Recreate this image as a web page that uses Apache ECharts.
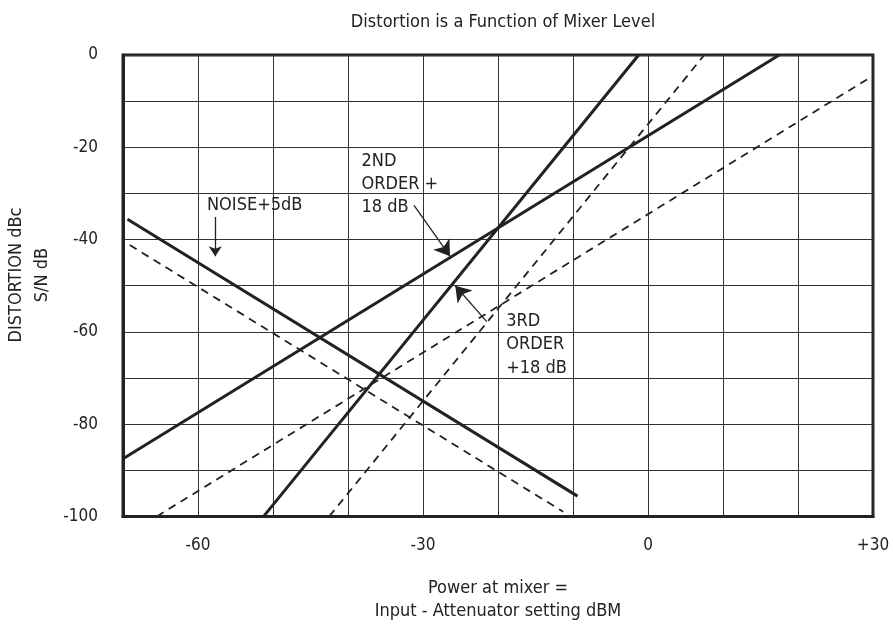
<!DOCTYPE html>
<html>
<head>
<meta charset="utf-8">
<script src="https://cdn.jsdelivr.net/npm/echarts@6/dist/echarts.min.js"></script>
<style>
html,body{margin:0;padding:0;background:#fff;}
#chart{width:893px;height:628px;}
</style>
</head>
<body>
<div id="chart"></div>
<script>
// ---- data (x = power at mixer dBm, y = dBc) ----
const xTickLabels = {'-60': '-60', '-30': '-30', '0': '0', '30': '+30'};
const yTickLabels = [0, -20, -40, -60, -80, -100];
const secondOrder = [[-70, -87.5], [17.5, 0]];
const thirdOrder = [[-51.25, -100], [-1.25, 0]];
const noise = [[-69.4, -35.6], [-9.4, -95.6]];
const noiseDashed = [[-69.1, -41.2], [-11.3, -99]];
const secondDashed = [[-65.5, -100], [29.3, -5.2]];
const thirdDashed = [[-42.5, -100], [7.5, 0]];
// annotations
const noiseArrow = [[-57.7, -35.1], [-57.7, -43.6]];
const secondArrow = [[-31.2, -32.6], [-26.4, -43.6]];
const thirdArrow = [[-21.5, -57.8], [-25.7, -50.0]];
const labelNoise = {text: 'NOISE+5dB', at: [-58.8, -32.55]};
const labelSecond = {text: '2ND\nORDER +\n18 dB', at: [-38.2, -28.0]};
const labelThird = {text: '3RD\nORDER\n+18 dB', at: [-18.9, -62.8]};

const FONT = '"Liberation Sans Narrow", "Arial Narrow", "DejaVu Sans Condensed", sans-serif';
const INK = '#222';

function solid(name, data) {
  return {name, type: 'line', data, symbol: 'none', silent: true,
    lineStyle: {color: INK, width: 3}, z: 3};
}
function dashed(name, data) {
  return {name, type: 'line', data, symbol: 'none', silent: true,
    lineStyle: {color: INK, width: 1.8, type: [8, 6]}, z: 3};
}
function arrow(name, data, size) {
  return {name, type: 'lines', coordinateSystem: 'cartesian2d', silent: true, z: 4,
    symbol: ['none', 'arrow'], symbolSize: size,
    lineStyle: {color: INK, width: 1.3, opacity: 1},
    data: [{coords: data}]};
}
function label(name, l) {
  return {name, type: 'scatter', symbol: 'circle', symbolSize: 0, silent: true, z: 5,
    itemStyle: {opacity: 1, color: INK},
    data: [{value: l.at}],
    label: {show: true, position: 'right', distance: 0, formatter: l.text, opacity: 1,
      color: '#222', fontFamily: FONT, fontSize: 18, lineHeight: 23.3, align: 'left', verticalAlign: 'middle'}};
}

const chart = echarts.init(document.getElementById('chart'), null, {renderer: 'canvas'});
chart.setOption({
  animation: false,
  backgroundColor: '#fff',
  title: {text: 'Distortion is a Function of Mixer Level', left: 498, top: 8, textAlign: 'center',
    textStyle: {fontFamily: FONT, fontSize: 18, fontWeight: 'normal', color: '#222'}},
  grid: {left: 123, top: 55, right: 20, bottom: 103, show: true, borderColor: INK, borderWidth: 3, backgroundColor: 'transparent'},
  xAxis: {type: 'value', min: -70, max: 30, interval: 10,
    name: 'Power at mixer =\nInput - Attenuator setting dBM', nameLocation: 'middle', nameGap: 60,
    nameTextStyle: {fontFamily: FONT, fontSize: 18, color: '#222', lineHeight: 23.3},
    axisLine: {show: true, onZero: false, lineStyle: {color: INK, width: 3}},
    axisTick: {show: false},
    axisLabel: {margin: 21, fontFamily: FONT, fontSize: 17, color: '#222', showMinLabel: true, showMaxLabel: true,
      formatter: v => xTickLabels[String(Math.round(v))] || ''},
    splitLine: {show: true, lineStyle: {color: '#333', width: 1}}},
  yAxis: {type: 'value', min: -100, max: 0, interval: 10,
    axisLine: {show: true, onZero: false, lineStyle: {color: INK, width: 3}},
    axisTick: {show: false},
    axisLabel: {margin: 25, fontFamily: FONT, fontSize: 17, color: '#222',
      formatter: v => yTickLabels.indexOf(Math.round(v)) >= 0 ? String(Math.round(v)) : ''},
    splitLine: {show: true, lineStyle: {color: '#333', width: 1}}},
  graphic: [{type: 'text', x: 29, y: 275, rotation: Math.PI / 2,
    style: {text: 'DISTORTION dBc\nS/N dB', fontFamily: FONT, fontSize: 18, lineHeight: 26,
      fill: '#222', align: 'center', verticalAlign: 'middle'}}],
  series: [
    solid('2nd order +18 dB', secondOrder),
    solid('3rd order +18 dB', thirdOrder),
    solid('Noise +5 dB', noise),
    dashed('Noise', noiseDashed),
    dashed('2nd order', secondDashed),
    dashed('3rd order', thirdDashed),
    arrow('noise arrow', noiseArrow, [6, 10]),
    arrow('2nd arrow', secondArrow, [7, 15]),
    arrow('3rd arrow', thirdArrow, [8, 15]),
    label('noise label', labelNoise),
    label('2nd label', labelSecond),
    label('3rd label', labelThird)
  ]
});
</script>
</body>
</html>
